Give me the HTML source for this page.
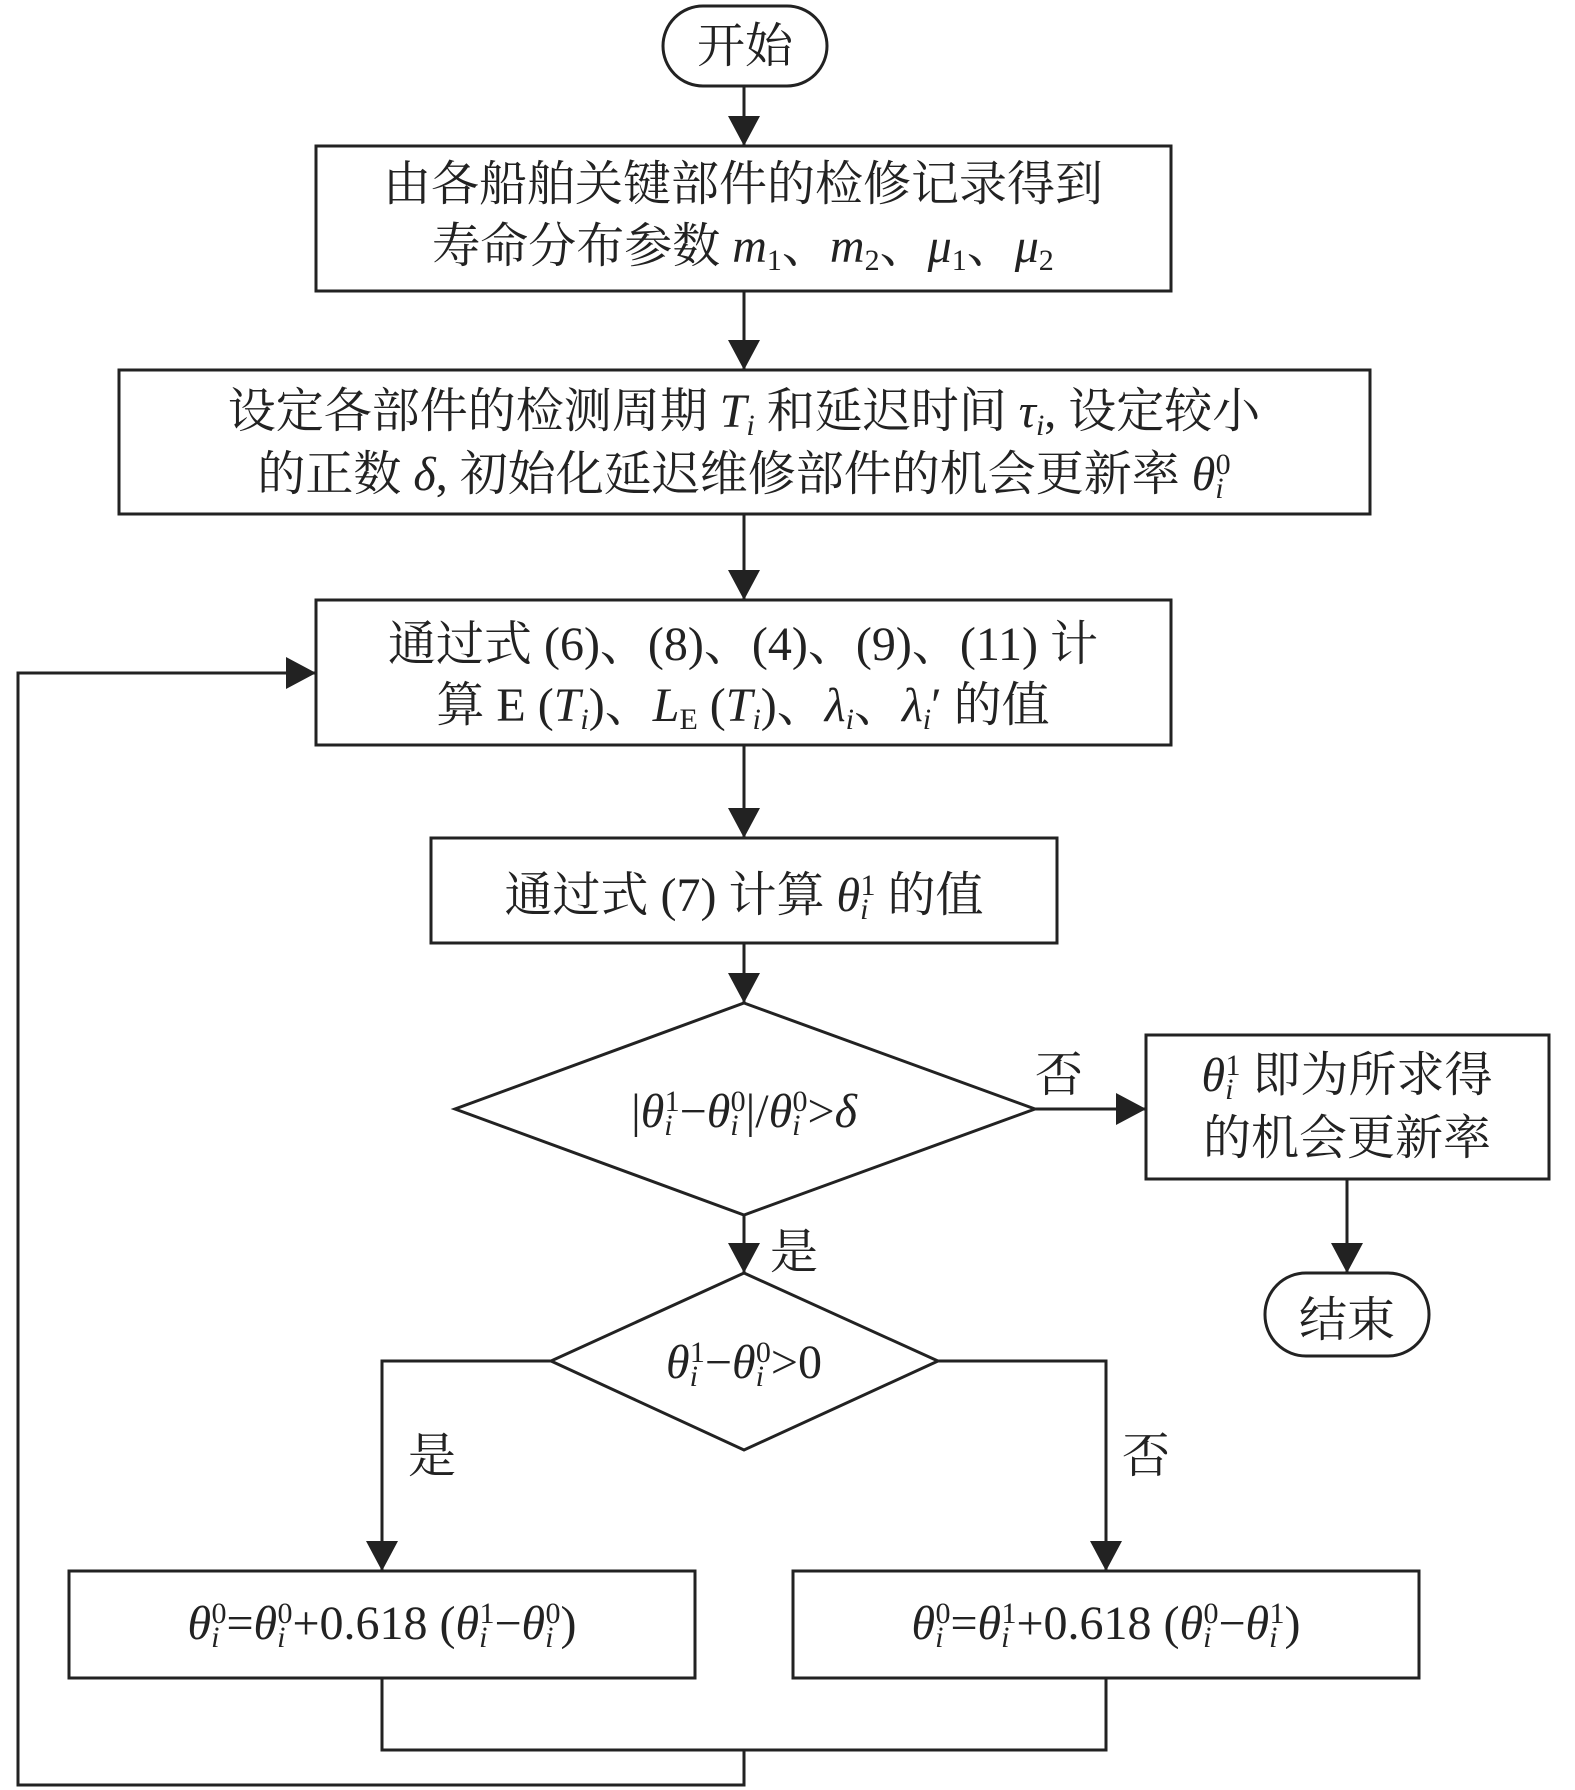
<!DOCTYPE html>
<html><head><meta charset="utf-8"><style>
html,body{margin:0;padding:0;background:#fff}
svg{display:block}
text{font-family:"Liberation Serif","Noto Serif CJK SC",serif;font-size:48px;fill:#222}
.i{font-style:italic}
</style></head><body>
<svg width="1575" height="1790" viewBox="0 0 1575 1790" xmlns="http://www.w3.org/2000/svg">
<defs><marker id="a" markerWidth="12" markerHeight="12" refX="11" refY="6" orient="auto" markerUnits="userSpaceOnUse" viewBox="0 0 12 12"><path d="M0,0 L12,6 L0,12z" fill="#222"/></marker>
<marker id="b" markerWidth="30" markerHeight="36" refX="36" refY="15" orient="auto" markerUnits="userSpaceOnUse" viewBox="0 0 36 30"><path d="M0,0 L36,15 L0,30z" fill="#222"/></marker></defs>
<g fill="none" stroke="#222" stroke-width="3">
<rect x="663" y="6" width="164" height="80" rx="40"/>
<rect x="316" y="146" width="855" height="145"/>
<rect x="119" y="370" width="1251" height="144"/>
<rect x="316" y="600" width="855" height="145"/>
<rect x="431" y="838" width="626" height="105"/>
<path d="M744,1003 L1035,1109 L744,1215 L455,1109z"/>
<rect x="1146" y="1035" width="403" height="144"/>
<rect x="1265" y="1273" width="164" height="83" rx="41"/>
<path d="M744,1273 L938,1361 L744,1450 L551,1361z"/>
<rect x="69" y="1571" width="626" height="107"/>
<rect x="793" y="1571" width="626" height="107"/>
<path d="M744,86 V146 M744,291 V370 M744,514 V600 M744,745 V838 M744,943 V1003 M1035,1109 H1146 M1347,1179 V1273 M744,1215 V1273 M551,1361 H382 V1571 M938,1361 H1106 V1571 M382,1678 V1750 H1106 V1678 M744,1750 V1785 H18 V673 H316" marker-end="url(#b)"/>
</g>
<g fill="#222">
<path d="M728,116 L760,116 L744,146z M728,340 L760,340 L744,370z M728,570 L760,570 L744,600z M728,808 L760,808 L744,838z M728,973 L760,973 L744,1003z M1116,1093 L1146,1109 L1116,1125z M1331,1243 L1363,1243 L1347,1273z M728,1243 L760,1243 L744,1273z M366,1541 L398,1541 L382,1571z M1090,1541 L1122,1541 L1106,1571z M286,657 L316,673 L286,689z"/>
</g>
<rect x="0" y="0" width="0" height="0"/>
<g text-anchor="middle">
<text x="745" y="62">开始</text>
<text x="743" y="200">由各船舶关键部件的检修记录得到</text>
<text x="743" y="262">寿命分布参数 <tspan class="i">m</tspan><tspan font-size="30" dy="8">1</tspan><tspan dy="-8">、</tspan><tspan class="i">m</tspan><tspan font-size="30" dy="8">2</tspan><tspan dy="-8">、</tspan><tspan class="i">μ</tspan><tspan font-size="30" dy="8">1</tspan><tspan dy="-8">、</tspan><tspan class="i">μ</tspan><tspan font-size="30" dy="8">2</tspan></text>
<text x="744" y="427">设定各部件的检测周期 <tspan class="i">T</tspan><tspan class="i" font-size="30" dy="8">i</tspan><tspan dy="-8"> 和延迟时间 </tspan><tspan class="i">τ</tspan><tspan class="i" font-size="30" dy="8">i</tspan><tspan dy="-8">, 设定较小</tspan></text>
<text x="744" y="490">的正数 <tspan class="i">δ</tspan>, 初始化延迟维修部件的机会更新率 <tspan class="i">θ</tspan><tspan class="i" font-size="30" dy="8">i</tspan><tspan font-size="30" dx="-8" dy="-24">0</tspan></text>
<text x="743" y="660">通过式 (6)、(8)、(4)、(9)、(11) 计</text>
<text x="743" y="721">算 E (<tspan class="i">T</tspan><tspan class="i" font-size="30" dy="8">i</tspan><tspan dy="-8">)、</tspan><tspan class="i">L</tspan><tspan font-size="30" dy="8">E</tspan><tspan dy="-8"> (</tspan><tspan class="i">T</tspan><tspan class="i" font-size="30" dy="8">i</tspan><tspan dy="-8">)、</tspan><tspan class="i">λ</tspan><tspan class="i" font-size="30" dy="8">i</tspan><tspan dy="-8">、</tspan><tspan class="i">λ</tspan><tspan class="i" font-size="30" dy="8">i</tspan><tspan dy="-8">′ 的值</tspan></text>
<text x="744" y="911">通过式 (7) 计算 <tspan class="i">θ</tspan><tspan class="i" font-size="30" dy="8">i</tspan><tspan font-size="30" dx="-8" dy="-24">1</tspan><tspan dy="16"> 的值</tspan></text>
<text x="744" y="1127">|<tspan class="i">θ</tspan><tspan class="i" font-size="30" dy="8">i</tspan><tspan font-size="30" dx="-8" dy="-24">1</tspan><tspan dy="16">−</tspan><tspan class="i">θ</tspan><tspan class="i" font-size="30" dy="8">i</tspan><tspan font-size="30" dx="-8" dy="-24">0</tspan><tspan dy="16">|/</tspan><tspan class="i">θ</tspan><tspan class="i" font-size="30" dy="8">i</tspan><tspan font-size="30" dx="-8" dy="-24">0</tspan><tspan dy="16">&gt;</tspan><tspan class="i">δ</tspan></text>
<text x="1347" y="1091"><tspan class="i">θ</tspan><tspan class="i" font-size="30" dy="8">i</tspan><tspan font-size="30" dx="-8" dy="-24">1</tspan><tspan dy="16"> 即为所求得</tspan></text>
<text x="1347" y="1154">的机会更新率</text>
<text x="1347" y="1336">结束</text>
<text x="1059" y="1091">否</text>
<text x="794" y="1268">是</text>
<text x="744" y="1378"><tspan class="i">θ</tspan><tspan class="i" font-size="30" dy="8">i</tspan><tspan font-size="30" dx="-8" dy="-24">1</tspan><tspan dy="16">−</tspan><tspan class="i">θ</tspan><tspan class="i" font-size="30" dy="8">i</tspan><tspan font-size="30" dx="-8" dy="-24">0</tspan><tspan dy="16">&gt;0</tspan></text>
<text x="432" y="1472">是</text>
<text x="1146" y="1472">否</text>
<text x="382" y="1639"><tspan class="i">θ</tspan><tspan class="i" font-size="30" dy="8">i</tspan><tspan font-size="30" dx="-8" dy="-24">0</tspan><tspan dy="16">=</tspan><tspan class="i">θ</tspan><tspan class="i" font-size="30" dy="8">i</tspan><tspan font-size="30" dx="-8" dy="-24">0</tspan><tspan dy="16">+0.618 (</tspan><tspan class="i">θ</tspan><tspan class="i" font-size="30" dy="8">i</tspan><tspan font-size="30" dx="-8" dy="-24">1</tspan><tspan dy="16">−</tspan><tspan class="i">θ</tspan><tspan class="i" font-size="30" dy="8">i</tspan><tspan font-size="30" dx="-8" dy="-24">0</tspan><tspan dy="16">)</tspan></text>
<text x="1106" y="1639"><tspan class="i">θ</tspan><tspan class="i" font-size="30" dy="8">i</tspan><tspan font-size="30" dx="-8" dy="-24">0</tspan><tspan dy="16">=</tspan><tspan class="i">θ</tspan><tspan class="i" font-size="30" dy="8">i</tspan><tspan font-size="30" dx="-8" dy="-24">1</tspan><tspan dy="16">+0.618 (</tspan><tspan class="i">θ</tspan><tspan class="i" font-size="30" dy="8">i</tspan><tspan font-size="30" dx="-8" dy="-24">0</tspan><tspan dy="16">−</tspan><tspan class="i">θ</tspan><tspan class="i" font-size="30" dy="8">i</tspan><tspan font-size="30" dx="-8" dy="-24">1</tspan><tspan dy="16">)</tspan></text>
</g>
</svg>
</body></html>
